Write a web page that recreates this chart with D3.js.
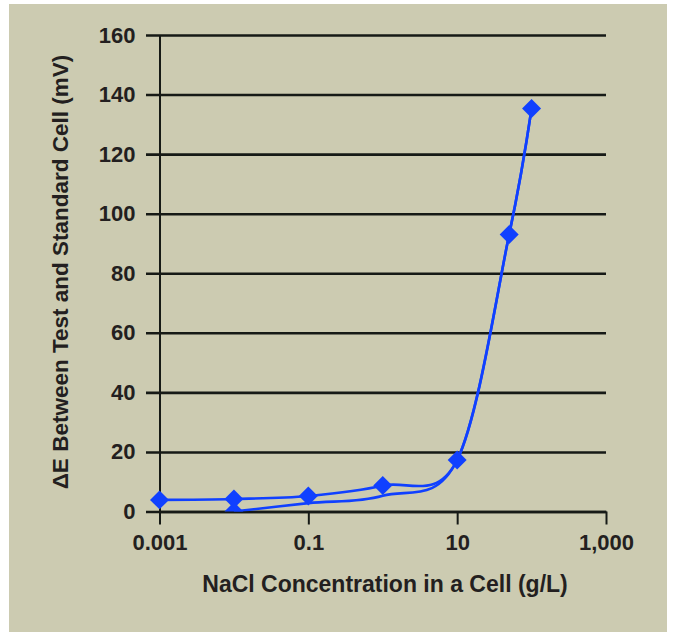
<!DOCTYPE html>
<html>
<head>
<meta charset="utf-8">
<script src="https://cdn.jsdelivr.net/npm/d3@7"></script>
<style>
  html, body { margin: 0; padding: 0; background: #ffffff; }
  svg { display: block; }
  text { font-family: "Liberation Sans", Arial, sans-serif; font-weight: bold; fill: #231f20; }
</style>
</head>
<body>
<svg id="chart" width="674" height="632"></svg>
<script>
// ---- Data ----
const concentrations = [0.001, 0.01, 0.1, 1, 10, 50, 100];
const deltaE = [3.9, 4.2, 5.2, 8.7, 17.3, 93, 135.3];
const concentrationsLower = [0.01, 0.1, 1, 10, 50, 100];
const deltaELower = [0, 2.8, 5.3, 17.3, 93, 135.3];
const lowerMarked = [true, false, false, false, false, false];
const xTickValues = [0.001, 0.1, 10, 1000];
const xTickLabels = ["0.001", "0.1", "10", "1,000"];
const yTickValues = [0, 20, 40, 60, 80, 100, 120, 140, 160];
const xTitle = "NaCl Concentration in a Cell (g/L)";
const yTitle = "\u0394E Between Test and Standard Cell (mV)";

// ---- Layout ----
const mLeft = 159.5, mRight = 606, mTop = 35, mBottom = 511.5;
const blue = "#1040ff";

const svg = d3.select("#chart");
svg.append("rect").attr("x", 9).attr("y", 4).attr("width", 658).attr("height", 628).attr("fill", "#cccbb1");

const x = d3.scaleLog().domain([0.001, 1000]).range([mLeft, mRight]);
const y = d3.scaleLinear().domain([0, 160]).range([mBottom, mTop]);

// Y axis with gridlines
const yAxis = d3.axisLeft(y).tickValues(yTickValues).tickFormat(d3.format("d"))
  .tickSizeInner(-(mRight - mLeft)).tickSizeOuter(0).tickPadding(24);
const gy = svg.append("g").attr("transform", `translate(${mLeft},0)`).call(yAxis);
gy.select(".domain").attr("stroke", "#161a16").attr("stroke-width", 2);
gy.selectAll(".tick line").attr("x1", -13.5).attr("stroke", "#161a16").attr("stroke-width", 2.6);
gy.selectAll(".tick text").attr("font-size", 22).attr("font-family", "Liberation Sans, Arial, sans-serif")
  .attr("font-weight", "bold").attr("fill", "#231f20");

// X axis
const xAxis = d3.axisBottom(x).tickValues(xTickValues)
  .tickFormat((d, i) => xTickLabels[i]).tickSizeInner(13).tickSizeOuter(0).tickPadding(10);
const gx = svg.append("g").attr("transform", `translate(0,${mBottom})`).call(xAxis);
gx.select(".domain").attr("stroke", "#161a16").attr("stroke-width", 2.6);
gx.selectAll(".tick line").attr("stroke", "#161a16").attr("stroke-width", 2);
gx.selectAll(".tick text").attr("font-size", 22).attr("font-family", "Liberation Sans, Arial, sans-serif")
  .attr("font-weight", "bold").attr("fill", "#231f20");

// Clip
svg.append("clipPath").attr("id", "plotclip").append("rect")
  .attr("x", mLeft - 20).attr("y", mTop - 20).attr("width", mRight - mLeft + 40).attr("height", mBottom - mTop + 20);

const plot = svg.append("g").attr("clip-path", "url(#plotclip)");

const upper = concentrations.map((c, i) => ({ c, v: deltaE[i], m: true }));
const lower = concentrationsLower.map((c, i) => ({ c, v: deltaELower[i], m: lowerMarked[i] }));

const line = d3.line().x(d => x(d.c)).y(d => y(d.v)).curve(d3.curveCatmullRom.alpha(0));

[lower, upper].forEach(series => {
  plot.append("path").datum(series).attr("d", line)
    .attr("fill", "none").attr("stroke", blue).attr("stroke-width", 2.6);
});

const diamond = d3.symbol().type(d3.symbolSquare).size(180);
[lower, upper].forEach(series => {
  plot.selectAll(null).data(series.filter(d => d.m)).enter().append("path")
    .attr("d", diamond)
    .attr("transform", d => `translate(${x(d.c)},${y(d.v)}) rotate(45)`)
    .attr("fill", blue);
});

// Titles
svg.append("text").attr("x", 385).attr("y", 591.5).attr("text-anchor", "middle")
  .attr("font-size", 23).text(xTitle);
svg.append("text").attr("transform", "translate(68,272) rotate(-90)").attr("text-anchor", "middle")
  .attr("font-size", 22.5).text(yTitle);
</script>
</body>
</html>
